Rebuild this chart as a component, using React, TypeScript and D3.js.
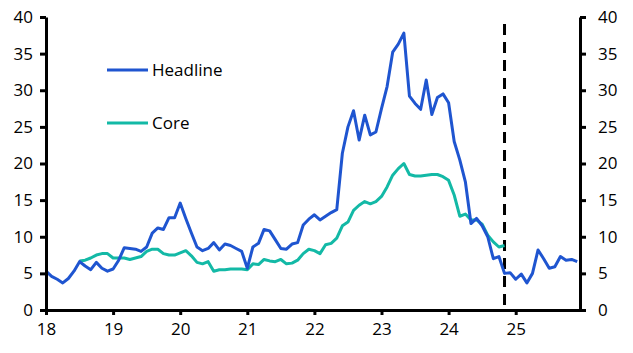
import React, { useRef, useEffect } from "react";
import * as d3 from "d3";

// monthly, Jan 2018 .. Dec 2025
const startYear = 2018;
const yearLabels = ["18", "19", "20", "21", "22", "23", "24", "25"];
const yTicks = [0, 5, 10, 15, 20, 25, 30, 35, 40];

const headline = [
    5.3, 4.6, 4.2, 3.7, 4.3, 5.3, 6.6, 6.0, 5.5, 6.5, 5.7, 5.3,
    5.6, 6.8, 8.5, 8.4, 8.3, 8.0, 8.6, 10.5, 11.2, 11.0, 12.6, 12.6,
    14.6, 12.5, 10.5, 8.6, 8.1, 8.4, 9.2, 8.2, 9.0, 8.8, 8.4, 8.0,
    5.7, 8.6, 9.1, 11.0, 10.8, 9.6, 8.4, 8.3, 9.0, 9.2, 11.6, 12.4,
    13.0, 12.3, 12.8, 13.3, 13.7, 21.4, 25.0, 27.2, 23.2, 26.6, 23.9, 24.3,
    27.5, 30.5, 35.2, 36.3, 37.8, 29.2, 28.2, 27.4, 31.4, 26.7, 29.0, 29.5,
    28.3, 23.0, 20.5, 17.5, 11.8, 12.5, 11.5, 10.0, 7.0, 7.3, 5.0, 5.1,
    4.2, 4.9, 3.7, 5.0, 8.2, 7.0, 5.7, 5.9, 7.3, 6.8, 6.9, 6.6,
];

// core starts Jul 2018, ends Nov 2024
const coreStart = 6;
const core = [
    6.7, 6.8, 7.1, 7.5, 7.7, 7.7,
    7.1, 7.1, 7.1, 6.9, 7.1, 7.3, 8.0, 8.3, 8.3, 7.7, 7.5, 7.5,
    7.8, 8.1, 7.4, 6.5, 6.3, 6.6, 5.3, 5.5, 5.5, 5.6, 5.6, 5.6,
    5.5, 6.3, 6.2, 6.9, 6.7, 6.6, 6.9, 6.3, 6.4, 6.8, 7.7, 8.3,
    8.1, 7.7, 8.9, 9.1, 9.8, 11.5, 12.0, 13.6, 14.3, 14.8, 14.5, 14.8,
    15.5, 16.8, 18.4, 19.3, 20.0, 18.5, 18.3, 18.3, 18.4, 18.5, 18.5, 18.2,
    17.7, 15.7, 12.8, 13.1, 12.3, 12.3, 11.7, 10.2, 9.3, 8.6, 8.8,
];

// forecast marker: Nov 2024
const markerMonth = 82;

const seriesNames = ["Headline", "Core"];
const colors = ["#1f55d0", "#13b9a6"];

export default function App() {
    const ref = useRef<SVGSVGElement>(null);

    useEffect(() => {
        if (!ref.current) return;
        const svg = d3.select(ref.current);
        svg.selectAll("*").remove();

        const font = "'Open Sans', sans-serif";
        const x = d3.scaleLinear().domain([0, 95.5]).range([46, 580]);
        const y = d3.scaleLinear().domain([0, 40]).range([310, 17]);

        const line = d3.line<[number, number]>()
            .x(d => x(d[0]))
            .y(d => y(d[1]));

        const hPts: [number, number][] = headline.map((v, i) => [i, v]);
        const cPts: [number, number][] = core.map((v, i) => [i + coreStart, v]);

        // dashed forecast line
        svg.append("line")
            .attr("x1", x(markerMonth)).attr("x2", x(markerMonth))
            .attr("y1", 24).attr("y2", y(0))
            .attr("stroke", "#000")
            .attr("stroke-width", 3)
            .attr("stroke-dasharray", "11 7");

        svg.append("path").datum(cPts)
            .attr("fill", "none").attr("stroke", colors[1])
            .attr("stroke-width", 3).attr("stroke-linejoin", "round")
            .attr("d", line);

        svg.append("path").datum(hPts)
            .attr("fill", "none").attr("stroke", colors[0])
            .attr("stroke-width", 3).attr("stroke-linejoin", "round")
            .attr("d", line);

        // axes
        const styleAxis = (g: d3.Selection<SVGGElement, unknown, null, undefined>) => {
            g.select(".domain").attr("stroke", "#000").attr("stroke-width", 3);
            g.selectAll(".tick line").attr("stroke", "#000").attr("stroke-width", 3);
            g.selectAll(".tick text").attr("fill", "#000").attr("font-size", 17).attr("font-family", font);
        };

        svg.append("g")
            .attr("transform", `translate(${x(0)},0)`)
            .call(d3.axisLeft(y).tickValues(yTicks).tickSize(6).tickSizeOuter(0).tickPadding(7))
            .call(styleAxis);

        svg.append("g")
            .attr("transform", `translate(${x(95.5)},0)`)
            .call(d3.axisRight(y).tickValues(yTicks).tickSize(6).tickSizeOuter(0).tickPadding(12))
            .call(styleAxis);

        svg.append("g")
            .attr("transform", `translate(0,${y(0)})`)
            .call(d3.axisBottom(x)
                .tickValues(yearLabels.map((_, i) => i * 12))
                .tickFormat((d, i) => yearLabels[i])
                .tickSize(5).tickSizeOuter(0).tickPadding(8))
            .call(styleAxis);

        // legend
        const legend = svg.append("g");
        seriesNames.forEach((name, i) => {
            const ly = 70 + i * 53;
            legend.append("line")
                .attr("x1", 107).attr("x2", 148)
                .attr("y1", ly).attr("y2", ly)
                .attr("stroke", colors[i]).attr("stroke-width", 3);
            legend.append("text")
                .attr("x", 152).attr("y", ly)
                .attr("dy", "0.35em")
                .attr("font-size", 17).attr("font-family", font)
                .attr("fill", "#000")
                .text(name);
        });
    }, []);

    return (
        <div style={{ position: "absolute", left: 0, top: 0 }}>
            <svg ref={ref} width={633} height={353} style={{ display: "block", background: "#fff" }} />
        </div>
    );
}
